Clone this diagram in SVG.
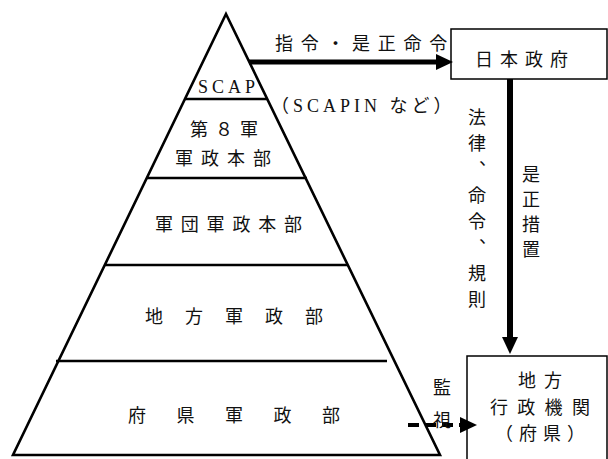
<svg xmlns="http://www.w3.org/2000/svg" width="608" height="459" viewBox="0 0 608 459">
<style>
.ol{fill:none;stroke:#000;stroke-width:2.6;stroke-linejoin:miter}
.band{stroke:#000;stroke-width:2.6}
.box{fill:#fff;stroke:#000;stroke-width:1.5}
.jp{font-family:"Noto Sans CJK JP","Noto Sans",sans-serif;font-size:18px;fill:#111}
.lat{font-family:"Liberation Serif","Noto Sans CJK JP",serif;font-size:18px;fill:#111}
.vt{writing-mode:vertical-rl}
.con{fill:none;stroke:#000}
</style>
<defs>
<marker id="ah" markerUnits="userSpaceOnUse" markerWidth="18" markerHeight="16" refX="0" refY="8" orient="auto" overflow="visible">
<path d="M0,0 L17,8 L0,16 z" fill="#000"/>
</marker>
</defs>
<rect width="608" height="459" fill="#fff"/>
<g id="pyramid">
<polygon class="ol" points="226,14 440,455 13,455"/>
<line class="band" x1="185" y1="99" x2="267" y2="99"/>
<line class="band" x1="147" y1="178" x2="307" y2="178"/>
<line class="band" x1="105" y1="265" x2="348" y2="265"/>
<line class="band" x1="56" y1="361" x2="387" y2="361"/>
</g>
<g id="scap"><text class="lat" x="198" y="93" letter-spacing="4">SCAP</text></g>
<g id="eighth-army"><text class="jp" x="190" y="135.5" letter-spacing="7">第８軍</text><text class="jp" x="175" y="165" letter-spacing="8">軍政本部</text></g>
<g id="corps"><text class="jp" x="155" y="230.5" letter-spacing="7.8">軍団軍政本部</text></g>
<g id="regional"><text class="jp" x="145" y="323" letter-spacing="22">地方軍政部</text></g>
<g id="prefectural"><text class="jp" x="128" y="421.5" letter-spacing="30.5">府県軍政部</text></g>
<g id="japan-gov">
<rect class="box" x="451" y="29" width="156" height="50"/>
<text class="jp" x="475" y="65.5" letter-spacing="7">日本政府</text>
</g>
<g id="local-gov">
<rect class="box" x="467" y="356" width="140" height="112"/>
<text class="jp" x="518" y="386.5" letter-spacing="8">地方</text>
<text class="jp" x="490" y="413.5" letter-spacing="9.3">行政機関</text>
<text class="jp" x="495" y="439.5" letter-spacing="6">（府県）</text>
</g>
<g id="connectors">
<line class="con" x1="249" y1="62" x2="436" y2="62" stroke-width="5" marker-end="url(#ah)"/>
<line class="con" x1="510" y1="79" x2="510" y2="337" stroke-width="6" marker-end="url(#ah)"/>
<line class="con" x1="408" y1="425" x2="460" y2="425" stroke-width="4" stroke-dasharray="11 6" marker-end="url(#ah)"/>
</g>
<g id="labels">
<text class="jp" x="275" y="50" letter-spacing="7.7">指令・是正命令</text>
<text class="lat" x="271" y="112" letter-spacing="4">（SCAPIN など）</text>
<text class="jp vt" x="477" y="108.5" letter-spacing="8">法律、命令、規則</text>
<text class="jp vt" x="531" y="165.5" letter-spacing="7">是正措置</text>
<text class="jp vt" x="442" y="378.5" letter-spacing="15">監視</text>
</g>
</svg>
